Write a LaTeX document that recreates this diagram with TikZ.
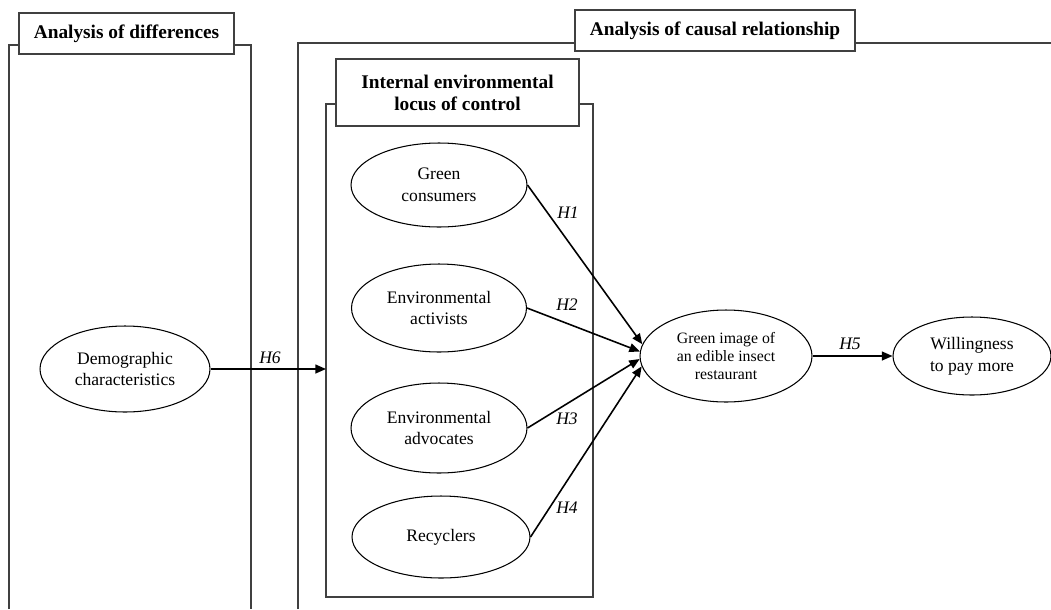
\documentclass[tikz,border=0pt]{standalone}
\usepackage{fontspec}
\setmainfont{Liberation Serif}
\usetikzlibrary{shapes.geometric,arrows.meta}
\begin{document}
\begin{tikzpicture}[x=0.02cm,y=-0.02cm,
		frame/.style={draw=black!75,line width=0.9pt},
		titlebox/.style={draw=black!75,line width=0.9pt,fill=white,align=center,inner sep=0pt,font=\fontsize{11}{12.5}\selectfont\bfseries},
		construct/.style={ellipse,draw,line width=0.6pt,align=center,inner sep=0pt,font=\fontsize{10}{12.5}\selectfont},
		path/.style={-{Triangle[length=6pt,width=5pt]},line width=0.9pt},
		hyp/.style={font=\fontsize{10}{12}\selectfont\itshape}]
		\useasboundingbox (0,0) rectangle (1051,609);
		%Analysis of differences (open at the bottom)
		\draw[frame] (9,609) -- (9,45) -- (251,45) -- (251,609);
		\node[titlebox,minimum width=4.3cm,minimum height=0.82cm] (diffTitle) at (126.5,33.5) {Analysis of differences};
		%Analysis of causal relationship (open at the bottom and right)
		\draw[frame] (298,609) -- (298,43) -- (1051,43);
		\node[titlebox,minimum width=5.6cm,minimum height=0.82cm] (causalTitle) at (715,30.5) {Analysis of causal relationship};
		%Internal environmental locus of control
		\draw[frame] (326,104) rectangle (593,597);
		\node[titlebox,minimum width=4.86cm,minimum height=1.34cm] (locusTitle) at (457.5,92.5) {Internal environmental\\locus of control};
		\coordinate (locusIn) at (326,369);
		%Constructs
		\node[construct,minimum width=3.4cm,minimum height=1.72cm] (demo) at (125,369) {Demographic\\characteristics};
		\node[construct,minimum width=3.52cm,minimum height=1.68cm] (green) at (439,185) {Green\\consumers};
		\node[construct,minimum width=3.5cm,minimum height=1.76cm] (activist) at (439,308) {Environmental\\activists};
		\node[construct,minimum width=3.52cm,minimum height=1.8cm] (advocate) at (439,428) {Environmental\\advocates};
		\node[construct,minimum width=3.56cm,minimum height=1.64cm] (recycler) at (441,537) {Recyclers};
		\node[construct,minimum width=3.44cm,minimum height=1.84cm,font=\fontsize{9}{10.5}\selectfont] (image) at (726,356) {Green image of\\an edible insect\\restaurant};
		\node[construct,minimum width=3.16cm,minimum height=1.56cm] (pay) at (972,356) {Willingness\\to pay more};
		%Paths
		\draw[path] (demo.east) -- (locusIn);
		\draw[path] (green.east) -- (image.172);
		\draw[path] (activist.east) -- (image.177);
		\draw[path] (advocate.east) -- (image.182);
		\draw[path] (recycler.east) -- (image.187);
		\draw[path] (image.east) -- (pay.west);
		%Hypotheses
		\node[hyp] (h1) at (568,213) {H1};
		\node[hyp] (h2) at (567,305) {H2};
		\node[hyp] (h3) at (567,419) {H3};
		\node[hyp] (h4) at (567,508) {H4};
		\node[hyp] (h5) at (850,344) {H5};
		\node[hyp] (h6) at (270,358) {H6};
\end{tikzpicture}
\end{document}
